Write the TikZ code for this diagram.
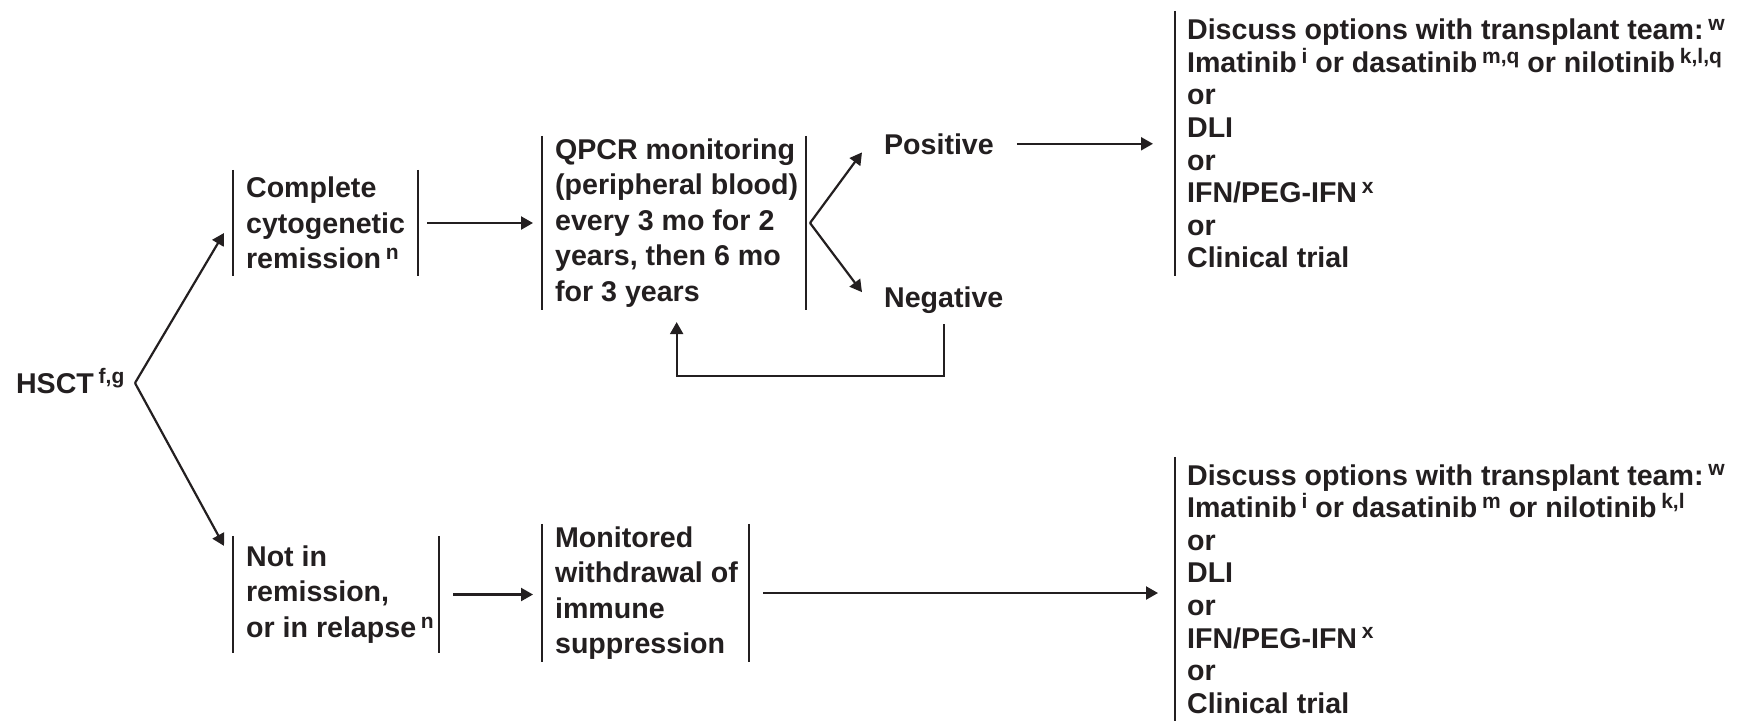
\documentclass[tikz,border=0pt]{standalone}
\usepackage{fontspec}
\setmainfont{Liberation Sans}
\usetikzlibrary{arrows.meta}
\definecolor{ink}{RGB}{35,31,32}
\newcommand{\fnote}[1]{\,\raisebox{4.6pt}{\fontsize{10.5}{10.5}\selectfont #1}}

\begin{document}
\begin{tikzpicture}[x=0.5pt,y=-0.5pt,color=ink,line width=1.1pt,
  font=\bfseries\fontsize{14.3}{17.75}\selectfont,
  arr/.style={-{Triangle[length=6pt,width=6.5pt]}},
  stage/.style={align=left,anchor=west,inner xsep=6pt,inner ysep=0pt},
  opts/.style={align=left,anchor=west,inner xsep=5.5pt,inner ysep=0pt,font=\bfseries\fontsize{14.3}{16.3}\selectfont}]
\useasboundingbox (0,0) rectangle (1740,720);

\node[anchor=base west,inner sep=0pt] (hsct) at (15,393) {HSCT\fnote{f,g}};
\coordinate (split) at (135,383);
\node[stage,minimum height=52pt] (cr) at (233,223) {Complete\\cytogenetic\\remission\fnote{n}};
\node[stage,minimum height=86pt] (qp) at (542,223) {QPCR monitoring\\(peripheral blood)\\every 3 mo for 2\\years, then 6 mo\\for 3 years};
\node[stage,minimum height=57.5pt] (nr) at (233,594.5) {Not in\\remission,\\or in relapse\fnote{n}};
\node[stage,minimum height=68pt] (mw) at (542,593) {Monitored\\withdrawal of\\immune\\suppression};
\node[anchor=base west,inner sep=0pt] (pos) at (883,154) {Positive};
\node[anchor=base west,inner sep=0pt] (neg) at (883,307) {Negative};
\node[opts,minimum height=131.5pt] (opta) at (1175,143.5) {Discuss options with transplant team:\fnote{w}\\Imatinib\fnote{i} or dasatinib\fnote{m,q} or nilotinib\fnote{k,l,q}\\or\\DLI\\or\\IFN/PEG-IFN\fnote{x}\\or\\Clinical trial};
\node[opts,minimum height=131pt] (optb) at (1175,589) {Discuss options with transplant team:\fnote{w}\\Imatinib\fnote{i} or dasatinib\fnote{m} or nilotinib\fnote{k,l}\\or\\DLI\\or\\IFN/PEG-IFN\fnote{x}\\or\\Clinical trial};

% bars
\foreach \n/\w in {cr/92.5pt,qp/132pt,nr/103pt,mw/103.5pt} {
  \draw (\n.north west) -- (\n.south west);
  \draw ([xshift=\w]\n.north west) -- ([xshift=\w]\n.south west);
  \coordinate (\n-r) at ([xshift=\w]\n.west);
}
\foreach \n in {opta,optb}
  \draw (\n.north west) -- (\n.south west);

\draw[arr] (split) -- ([xshift=-4.5pt,yshift=-5pt]cr.west);
\draw[arr] (split) -- ([xshift=-4.5pt,yshift=-5pt]nr.north west);
\draw[arr,shorten <=4.5pt,shorten >=4.5pt] (cr-r) -- (qp.west);
\draw[arr,shorten <=7pt,shorten >=4.5pt] (nr-r) -- (nr-r -| mw.west);
\coordinate (qsplit) at ([xshift=2pt]qp-r);
\draw[arr] (qsplit) -- ([xshift=-10.5pt,yshift=1.5pt]pos.south west);
\draw[arr] (qsplit) -- ([xshift=-10.5pt,yshift=-3.5pt]neg.north west);
\draw[arr,shorten <=5pt,shorten >=6pt] (neg.south) -- ++(0,62) -| (qp.south);
\draw[arr,shorten <=11pt,shorten >=11pt] (pos.east) -- (pos.east -| opta.west);
\draw[arr,shorten <=7pt,shorten >=8.5pt] (mw-r) -- (mw-r -| optb.west);
\end{tikzpicture}
\end{document}
